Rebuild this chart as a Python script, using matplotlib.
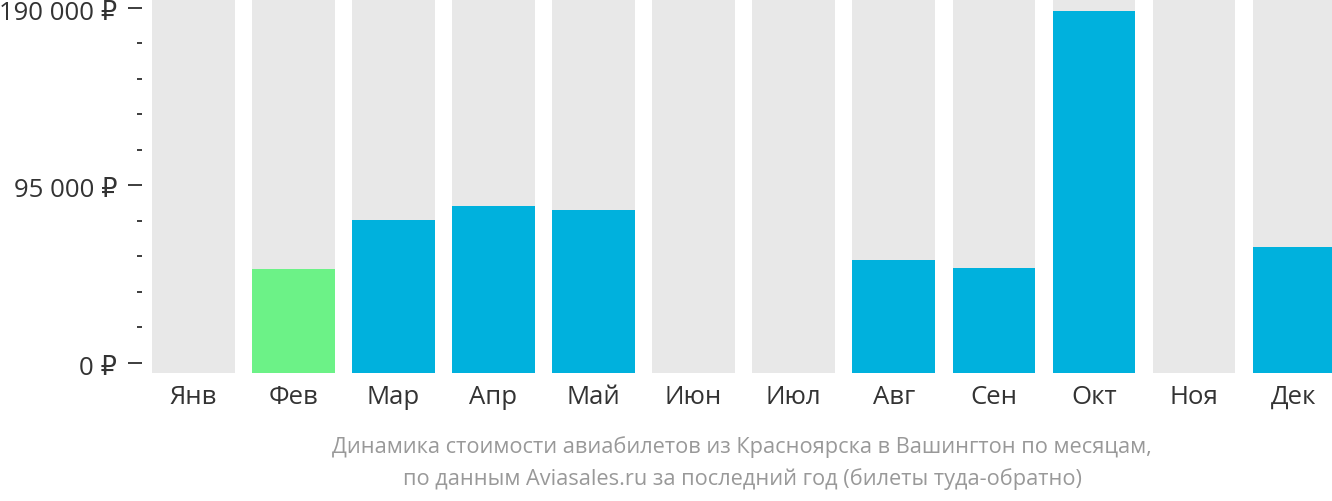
import numpy as np
import matplotlib
matplotlib.use('Agg')
import matplotlib.pyplot as plt
import matplotlib.transforms as mtransforms
from matplotlib.ticker import MultipleLocator, FixedLocator

plt.rcParams['font.family'] = ['Open Sans', 'DejaVu Sans']

# Data
months = ['Янв', 'Фев', 'Мар', 'Апр', 'Май', 'Июн', 'Июл', 'Авг', 'Сен', 'Окт', 'Ноя', 'Дек']
prices = [0, 50300, 76500, 84000, 81900, 0, 0, 55100, 50800, 188400, 0, 62100]
cheapest = 'Фев'
y_ticks = [0, 95000, 190000]
y_labels = ['0 ₽', '95 000 ₽', '190 000 ₽']
caption = ('Динамика стоимости авиабилетов из Красноярска в Вашингтон по месяцам,\n'
           'по данным Aviasales.ru за последний год (билеты туда-обратно)')

W, H = 1332, 502
PX = 72 / 100  # points per pixel
fig = plt.figure(figsize=(W / 100, H / 100), dpi=100)
ax = fig.add_axes([152 / W, (H - 374) / H, (1334 - 152) / W, 374 / H])

ymin, ymax = -5350, 194800
x = np.arange(len(months))
width = 0.825

# background bars
ax.bar(x, ymax - ymin, bottom=ymin, width=width, color='#e8e8e8', zorder=1)

# price bars
colors = ['#6cf287' if m == cheapest else '#00b1dd' for m in months]
vals = np.array(prices, dtype=float)
mask = vals > 0
ax.bar(x[mask], vals[mask] - ymin, bottom=ymin, width=width,
       color=[c for c, k in zip(colors, mask) if k], zorder=2)

ax.set_xlim(-width / 2, 11.4)
ax.set_ylim(ymin, ymax)

for s in ax.spines.values():
    s.set_visible(False)
ax.spines['left'].set_position(('outward', 10 * PX))

ax.yaxis.set_major_locator(FixedLocator(y_ticks))
ax.yaxis.set_minor_locator(MultipleLocator(19000))
ax.tick_params(axis='y', which='major', length=14 * PX, width=1.7 * PX, color='#222222',
               labelleft=False)
ax.tick_params(axis='y', which='minor', length=5 * PX, width=1.7 * PX, color='#222222')

# y labels drawn by hand so the digits sit centred on the ticks
trans = mtransforms.blended_transform_factory(ax.transAxes, ax.transData)
trans = mtransforms.offset_copy(trans, fig=fig, x=-35, y=-1.5, units='dots')
for v, lab in zip(y_ticks, y_labels):
    ax.text(0, v, lab, transform=trans, ha='right', va='center_baseline',
            fontsize=18.5, color='#333333', clip_on=False)

ax.set_xticks(x)
ax.set_xticklabels(months)
ax.tick_params(axis='x', length=0, labelsize=18.5, labelcolor='#333333', pad=11 * PX)

fig.text((152 + 1332) / 2 / W, 1 - 463 / H, caption, ha='center', va='center',
         fontsize=15.7, color='#999999', linespacing=1.62)

fig.savefig('out.png', dpi=100)
